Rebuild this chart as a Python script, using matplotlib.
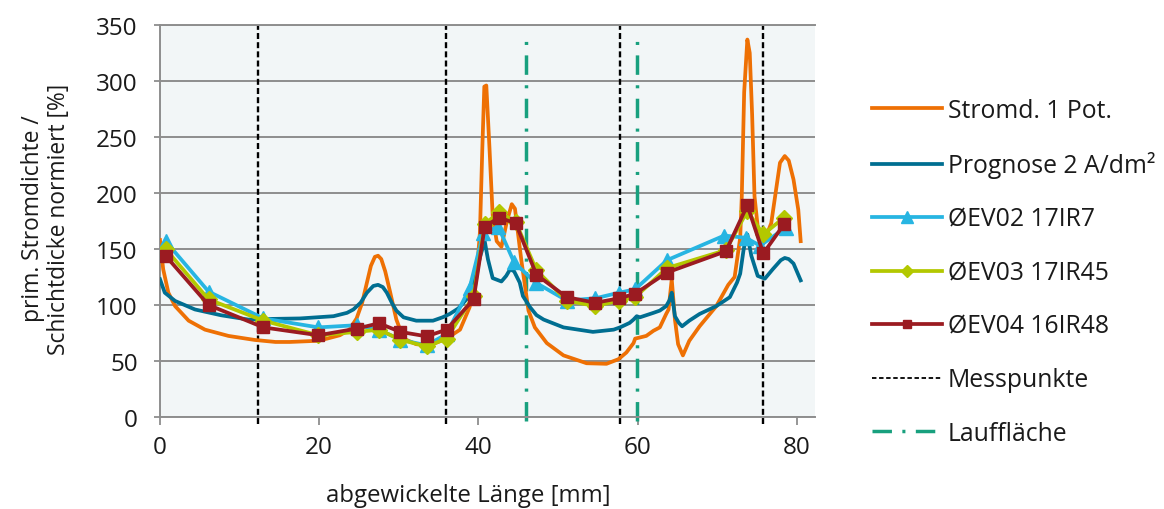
import matplotlib
matplotlib.use("Agg")
import matplotlib.pyplot as plt
from matplotlib.lines import Line2D

plt.rcParams['font.family'] = ['Open Sans', 'DejaVu Sans']
plt.rcParams['lines.scale_dashes'] = False

# --- data -------------------------------------------------------------
# primary current density, one potential (simulation)
strom_x = [0.0, 0.4, 1.05, 1.9, 3.6, 5.65, 8.6, 11.9, 14.5, 16.3, 18.0, 19.7,
           21.0, 22.6, 23.8, 24.7, 25.4, 26.0, 26.5, 27.0, 27.4, 27.8, 28.3,
           28.9, 29.7, 30.6, 32.2, 33.9, 36.0, 37.7, 38.9, 39.8, 40.2, 40.5,
           40.75, 41.0, 41.4, 41.8, 42.3, 42.9, 43.6, 44.2, 44.6, 45.4, 46.3,
           47.1, 48.6, 50.7, 53.6, 56.1, 57.6, 58.6, 59.5, 59.7, 60.3, 61.1,
           62.0, 62.8, 63.6, 63.9, 64.3, 64.7, 65.1, 65.7, 66.5, 67.8, 69.9,
           71.4, 72.2, 72.9, 73.1, 73.4, 73.8, 74.1, 74.4, 74.7, 75.1, 75.8,
           76.8, 77.9, 78.5, 79.0, 79.6, 80.2, 80.5]
strom_y = [158, 132, 111, 99, 86, 78, 72.4, 68.8, 67, 67, 67.5, 68,
           70, 73, 78, 88, 102, 120, 135, 143, 144, 141, 130,
           112, 87, 70, 65, 64, 70, 78, 98, 128, 165, 240,
           295, 296, 240, 180, 157, 152, 175, 190, 186, 140, 95,
           80, 66, 55, 48, 47.5, 51.6, 57.6, 66, 70, 71, 72.4,
           77, 80, 92, 96, 123, 87, 65, 55, 68, 81, 99,
           118, 125, 160, 197, 290, 337, 325, 270, 197, 170, 155,
           173, 227, 233, 229, 212, 185, 157]

# forecast at 2 A/dm²
prog_x = [0.0, 0.6, 1.9, 4.4, 7.7, 11.1, 13.4, 17.6, 21.8, 23.5, 24.3, 25.2,
          26.0, 26.8, 27.4, 28.0, 28.5, 29.2, 29.7, 30.6, 32.2, 34.3, 35.5,
          36.4, 37.5, 38.5, 39.6, 40.3, 40.8, 41.2, 41.8, 42.9, 43.5, 44.0,
          44.5, 45.2, 45.6, 46.5, 47.3, 48.2, 50.7, 54.4, 57.0, 57.8, 59.0,
          59.5, 59.9, 60.3, 62.0, 62.8, 63.6, 64.0, 64.3, 64.7, 65.2, 65.6,
          66.5, 67.8, 69.9, 71.6, 72.5, 72.9, 73.3, 73.5, 73.8, 74.3, 75.1,
          76.0, 77.0, 78.0, 78.5, 79.0, 79.6, 80.5]
prog_y = [123, 111, 103.6, 96, 90.8, 87, 87.5, 88, 90, 93, 96, 102,
          111, 117, 118, 116, 111, 101, 95, 89, 86, 86, 89,
          92, 97, 105, 126, 145, 157, 141, 124, 121, 126, 132,
          130, 120, 108, 98, 91, 87, 80, 76, 78, 80, 84,
          87, 90, 89, 93, 95, 99, 104, 111, 90, 84, 81,
          86, 92, 99, 107, 120, 128, 148, 156, 163, 144, 126,
          123.5, 132, 140, 142, 141, 137, 122]

# measured layer thickness, three parts
ev02_x = [0.7, 6.1, 13.0, 19.9, 24.8, 27.5, 30.2, 33.5, 36.0, 38.9, 40.6, 42.5,
          44.5, 47.2, 51.1, 54.7, 57.7, 59.7, 63.7, 70.9, 73.6, 75.4, 78.6]
ev02_y = [157, 112, 88, 80, 82, 78, 69, 64, 74, 115, 164, 170,
          138, 120, 104, 106, 111, 114, 140, 162, 160, 153, 169]

ev_x = [0.7, 6.1, 13.0, 19.9, 24.8, 27.5, 30.2, 33.5, 36.0, 39.4, 40.8, 42.6,
        44.7, 47.3, 51.1, 54.7, 57.7, 59.7, 63.7, 71.1, 73.8, 75.8, 78.4]
ev03_y = [150, 105, 86, 73, 76, 78, 69, 63, 70, 108, 172, 183,
          174, 131, 104, 99, 104, 107, 133, 149, 184, 163, 178]
ev04_y = [144, 100, 80, 73, 79, 83.7, 76, 72, 78, 105, 170, 178,
          173, 127, 107, 102, 106, 110, 129, 148, 189, 146, 172]

messpunkte = [12.3, 35.9, 57.8, 75.75]
laufflaeche = [46.0, 59.9]

x_ticks = [0, 20, 40, 60, 80]
y_ticks = [0, 50, 100, 150, 200, 250, 300, 350]

# --- style ------------------------------------------------------------
C_ORANGE = '#EE7004'
C_TEAL = '#006E91'
C_BLUE = '#27B5E2'
C_YG = '#B3C800'
C_RED = '#9B1B21'
C_GREEN = '#18A07E'
C_GRID = '#8E8E8E'
BG = '#F2F6F7'
TXT = '#1a1a1a'

FS_TICK = 17.5
FS_LEG = 17.8
LW = 2.7
DASH_BLACK = (0, (4.3, 2.3))
DASH_GREEN = (0, (14, 7.5, 2.2, 7.5))

fig = plt.figure(figsize=(11.64, 5.10), dpi=100)
ax = fig.add_axes([160 / 1164, 1 - 418 / 510, (815 - 160) / 1164, (418 - 26) / 510])
ax.set_facecolor(BG)

ax.set_xlim(0, 82.3)
ax.set_ylim(0, 350)
ax.set_xticks(x_ticks)
ax.set_yticks(y_ticks)
ax.yaxis.grid(True, color=C_GRID, linewidth=1.4, zorder=0)
ax.set_axisbelow(True)

ax.spines['right'].set_visible(False)
for side in ('left', 'bottom', 'top'):
    ax.spines[side].set_color(C_GRID)
    ax.spines[side].set_linewidth(1.4)

ax.tick_params(axis='both', colors=C_GRID, labelcolor=TXT, labelsize=FS_TICK,
               width=1.3)
ax.tick_params(axis='y', length=4, pad=12)
ax.tick_params(axis='x', length=6, pad=7)

# reference lines
for xv in messpunkte:
    ax.axvline(xv, ymin=-0.018, ymax=1, color='black', linewidth=1.7,
               linestyle=DASH_BLACK, clip_on=False, zorder=1)
for xv in laufflaeche:
    ax.axvline(xv, ymin=-0.01, ymax=0.975, color=C_GREEN, linewidth=2.5,
               linestyle=DASH_GREEN, clip_on=False, zorder=1)

ax.plot(strom_x, strom_y, color=C_ORANGE, linewidth=LW, zorder=3)
ax.plot(prog_x, prog_y, color=C_TEAL, linewidth=LW, zorder=3)
ax.plot(ev02_x, ev02_y, color=C_BLUE, linewidth=LW, marker='^',
        markersize=10, zorder=4)
ax.plot(ev_x, ev03_y, color=C_YG, linewidth=LW, marker='D',
        markersize=8, zorder=5)
ax.plot(ev_x, ev04_y, color=C_RED, linewidth=LW, marker='s',
        markersize=8, zorder=6)

# axis titles
fig.text(46 / 1164, 1 - 219 / 510, 'prim. Stromdichte /\nSchichtdicke normiert [%]',
         rotation=90, ha='center', va='center', multialignment='center',
         fontsize=16.4, color=TXT, linespacing=1.15)
fig.text(468 / 1164, 1 - 502 / 510, 'abgewickelte Länge [mm]', ha='center',
         va='baseline', fontsize=17.3, color=TXT)

# legend
handles = [
    Line2D([], [], color=C_ORANGE, linewidth=LW),
    Line2D([], [], color=C_TEAL, linewidth=LW),
    Line2D([], [], color=C_BLUE, linewidth=LW, marker='^', markersize=8),
    Line2D([], [], color=C_YG, linewidth=LW, marker='D', markersize=6.5),
    Line2D([], [], color=C_RED, linewidth=LW, marker='s', markersize=5.5),
    Line2D([], [], color='black', linewidth=1.3, linestyle=(0, (3.2, 1.9))),
    Line2D([], [], color=C_GREEN, linewidth=2.5, linestyle=DASH_GREEN),
]
labels = ['Stromd. 1 Pot.', 'Prognose 2 A/dm²', 'ØEV02 17IR7', 'ØEV03 17IR45',
          'ØEV04 16IR48', 'Messpunkte', 'Lauffläche']
fig.legend(handles, labels, loc='upper left',
           bbox_to_anchor=(872 / 1164, 1 - 99 / 510), frameon=False,
           fontsize=FS_LEG, handlelength=2.83, handletextpad=0.24,
           labelspacing=1.15, borderpad=0, borderaxespad=0, numpoints=1,
           labelcolor=TXT)

fig.savefig('out.png', dpi=100, facecolor='white')
